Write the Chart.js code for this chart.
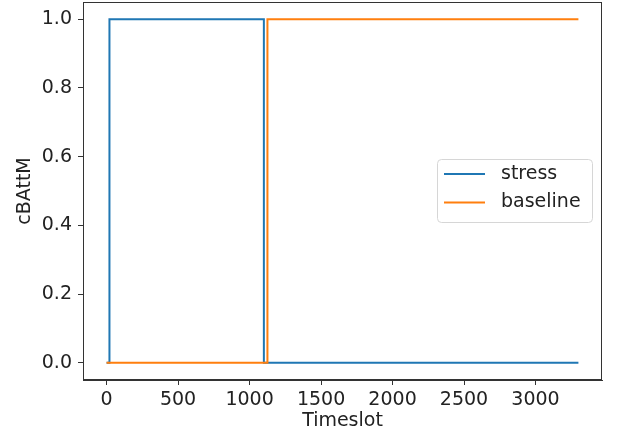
<!DOCTYPE html>
<html>
<head>
<meta charset="utf-8">
<script src="https://cdn.jsdelivr.net/npm/chart.js@4/dist/chart.umd.min.js"></script>
<style>
  body { margin: 0; background: #fff; }
  canvas { display: block; }
</style>
</head>
<body>
<canvas id="myChart" width="624" height="439"></canvas>
<script>
const stressX = [0, 20, 1100, 3300];
const stressY = [0, 1, 0, 0];
const baselineX = [0, 1125, 3300];
const baselineY = [0, 1, 1];
const xTicks = [0, 500, 1000, 1500, 2000, 2500, 3000];
const yTicks = [0, 0.2, 0.4, 0.6, 0.8, 1.0];

const FONT = {family: 'DejaVu Sans', size: 19};
const AXIS_COLOR = '#333';

const toPoints = (xs, ys) => xs.map((x, i) => ({x: x, y: ys[i]}));

// draws the top/right spines and the matplotlib-ish legend box
const framePlugin = {
    id: 'frame',
    afterDraw(chart) {
        const ctx = chart.ctx;
        const area = chart.chartArea;
        ctx.save();
        ctx.strokeStyle = AXIS_COLOR;
        ctx.lineWidth = 1;
        ctx.strokeRect(area.left + 0.5, area.top + 0.5, area.right - area.left - 1, area.bottom - area.top - 1);

        const boxW = 155, boxH = 63;
        const bx = area.right - 10 - boxW;
        const by = area.top + (area.bottom - area.top) / 2 - 32;
        ctx.beginPath();
        ctx.roundRect(bx + 0.5, by + 0.5, boxW, boxH, 4);
        ctx.fillStyle = 'rgba(255,255,255,0.8)';
        ctx.fill();
        ctx.strokeStyle = '#d6d6d6';
        ctx.stroke();

        ctx.font = FONT.size + 'px ' + FONT.family;
        ctx.textBaseline = 'middle';
        ctx.fillStyle = '#222';
        chart.data.datasets.forEach((ds, i) => {
            const y = by + 15 + i * 28.5;
            ctx.beginPath();
            ctx.strokeStyle = ds.borderColor;
            ctx.lineWidth = 2;
            ctx.moveTo(bx + 7, y);
            ctx.lineTo(bx + 48, y);
            ctx.stroke();
            ctx.fillText(ds.label, bx + 64, y);
        });
        ctx.restore();
    }
};

const config = {
    type: 'line',
    data: {
        datasets: [
            {
                label: 'stress',
                data: toPoints(stressX, stressY),
                borderColor: '#1f77b4',
                borderWidth: 2,
                stepped: 'before',
                pointRadius: 0,
                fill: false,
                order: 1,
            },
            {
                label: 'baseline',
                data: toPoints(baselineX, baselineY),
                borderColor: '#ff7f0e',
                borderWidth: 2,
                stepped: 'before',
                pointRadius: 0,
                fill: false,
                order: 0,
            }
        ]
    },
    options: {
        responsive: false,
        animation: false,
        layout: {padding: {left: 0, right: 22, top: 2, bottom: 0}},
        plugins: {
            legend: {display: false},
            tooltip: {enabled: false},
        },
        scales: {
            x: {
                type: 'linear',
                min: -165,
                max: 3465,
                afterFit: scale => {
                    scale.height = 59;
                    scale.paddingLeft = 0;
                    scale.paddingRight = 0;
                },
                afterBuildTicks: scale => { scale.ticks = xTicks.map(v => ({value: v})); },
                grid: {drawOnChartArea: false, drawTicks: true, tickLength: 5, color: AXIS_COLOR},
                border: {color: AXIS_COLOR, width: 1},
                ticks: {font: FONT, color: '#222', padding: 4, maxRotation: 0,
                    callback: value => String(value)},
                title: {display: true, text: 'Timeslot', font: FONT, color: '#222', padding: {top: 0, bottom: 7}},
            },
            y: {
                type: 'linear',
                min: -0.05,
                max: 1.05,
                afterFit: scale => {
                    scale.width = 83;
                    scale.paddingTop = 0;
                    scale.paddingBottom = 0;
                },
                afterBuildTicks: scale => { scale.ticks = yTicks.map(v => ({value: v})); },
                grid: {drawOnChartArea: false, drawTicks: true, tickLength: 5, color: AXIS_COLOR},
                border: {color: AXIS_COLOR, width: 1},
                ticks: {font: FONT, color: '#222', padding: 6,
                    callback: value => value.toFixed(1)},
                title: {display: true, text: 'cBAttM', font: FONT, color: '#222', padding: {top: 14, bottom: 0}},
            },
        }
    },
    plugins: [framePlugin],
};

const myChart = new Chart(document.getElementById('myChart').getContext('2d'), config);
</script>
</body>
</html>
